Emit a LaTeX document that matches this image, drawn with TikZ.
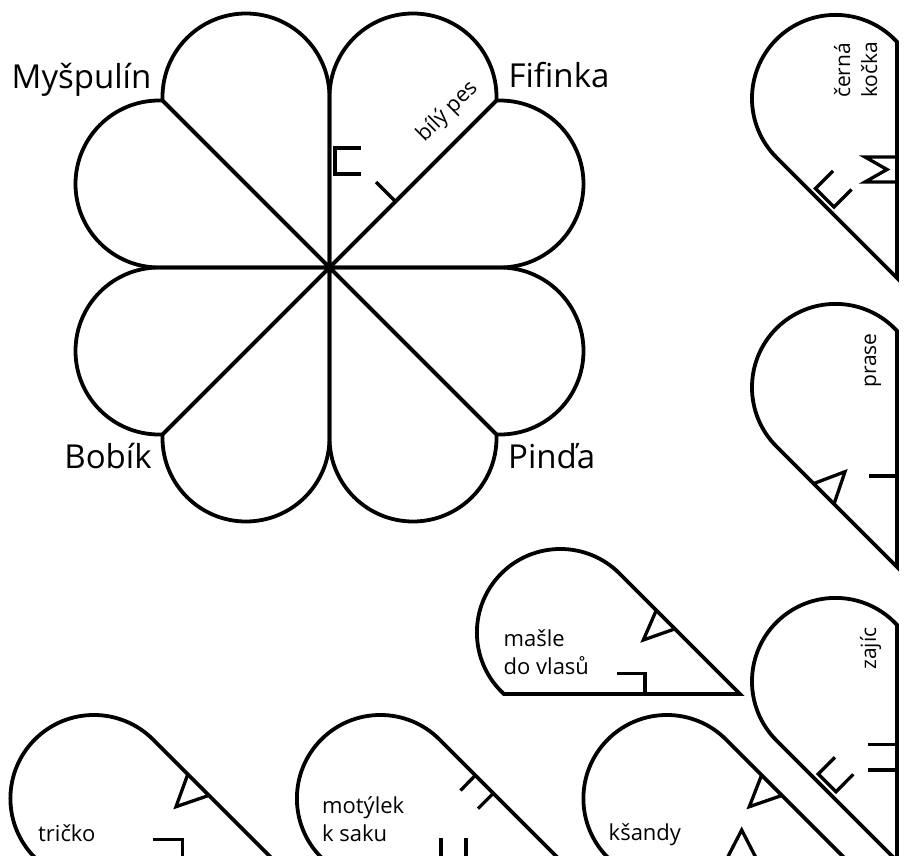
\documentclass[tikz,border=0pt]{standalone}
\usepackage{fontspec}
\setmainfont{Open Sans}
\tikzset{
  petal/.pic={\draw[line width=3.8pt, pic actions] (0,0) -- (0,170.5) arc[start angle=180,end angle=0,radius=83.5] -- (167,167) -- cycle;},
  notchline/.style={line width=3.3pt},
  bigname/.style={font=\fontsize{33}{40}\selectfont, inner sep=0pt, anchor=base},
  smalllabel/.style={font=\fontsize{22}{27}\selectfont, inner sep=0pt, anchor=base west},
  sidelabel/.style={font=\fontsize{21}{26}\selectfont, inner sep=0pt, anchor=base west, rotate=90},
}
\begin{document}
\begin{tikzpicture}[x=1pt,y=1pt]
\path[use as bounding box] (0,0) rectangle (908,-856);
\clip (0,0) rectangle (908,-856);
% flower
\foreach \r in {0,90,180,270}{
  \pic[line join=round, rotate=\r] at (329.5,-267.5) {petal};
  \pic[line join=round, rotate=\r, xscale=-1] at (329.5,-267.5) {petal};
}
\draw[notchline] (361,-148) -- (335,-148) -- (335,-174) -- (361,-174);
\draw[notchline] (395.5,-201.5) -- (376,-182);
\node[font=\fontsize{21.5}{26}\selectfont, inner sep=0pt, anchor=base, rotate=45] (bily) at (451.5,-115.8) {bílý pes};
\node[bigname] (myspulin) at (81.5,-88.5) {Myšpulín};
\node[bigname] (fifinka) at (559,-87.5) {Fifinka};
\node[bigname] (bobik) at (108,-468) {Bobík};
\node[bigname] (pinda) at (551.7,-468) {Pinďa};
% pieces
\pic[rotate=45] at (897,-278) {petal};
\pic[rotate=45] at (897,-567) {petal};
\pic[rotate=45] at (897,-861) {petal};
\pic[rotate=45,xscale=-1] at (740,-694) {petal};
\pic[rotate=45,xscale=-1] at (273.5,-860) {petal};
\pic[rotate=45,xscale=-1] at (560,-860) {petal};
\pic[rotate=45,xscale=-1] at (846.5,-860) {petal};
% cerna kocka marks
\draw[notchline] (833,-171) -- (815.5,-188.5) -- (834,-207) -- (851.5,-189.5);
\draw[notchline] (897,-157) -- (865,-157) -- (887,-169.5) -- (865,-182) -- (897,-182);
% prase marks
\draw[notchline] (813.6,-483.6) -- (845,-471.7) -- (834,-504);
\draw[notchline] (869,-476) -- (897,-476);
% zajic marks
\draw[notchline] (868,-744.3) -- (897,-744.3);
\draw[notchline] (868,-770) -- (897,-770);
\draw[notchline] (835,-757.3) -- (818.3,-774) -- (836,-791.7) -- (853.3,-774.3);
% masle marks
\draw[notchline] (656.3,-610.3) -- (643.3,-640) -- (674.9,-628.9);
\draw[notchline] (617,-673.3) -- (645,-673.3) -- (645,-694);
% tricko marks
\draw[notchline] (187.8,-774.3) -- (176,-806.7) -- (208.9,-795.4);
\draw[notchline] (153.3,-839.3) -- (182.7,-839.3) -- (182.7,-860);
% motylek marks
\draw[notchline] (475.3,-775.3) -- (460.5,-790.5);
\draw[notchline] (493.3,-793.3) -- (478,-808.6);
\draw[notchline] (441,-838.3) -- (441,-860);
\draw[notchline] (466,-838.3) -- (466,-860);
% ksandy marks
\draw[notchline] (761.6,-775.1) -- (749.3,-806.7) -- (782,-795.4);
\draw[notchline] (726.2,-860) -- (741.7,-830) -- (757.1,-860);
% labels
\node[sidelabel] (cerna) at (850,-98) {černá};
\node[sidelabel] (kocka) at (877,-98) {kočka};
\node[sidelabel] (prase) at (876,-388) {prase};
\node[sidelabel] (zajic) at (876,-670) {zajíc};
\node[smalllabel] (masle1) at (503.5,-646.7) {mašle};
\node[smalllabel] (masle2) at (503.5,-674) {do vlasů};
\node[smalllabel] (tricko) at (38,-841) {tričko};
\node[smalllabel] (motylek1) at (322,-813.3) {motýlek};
\node[smalllabel] (motylek2) at (322,-841) {k saku};
\node[smalllabel] (ksandy) at (608.5,-840) {kšandy};
\end{tikzpicture}
\end{document}
